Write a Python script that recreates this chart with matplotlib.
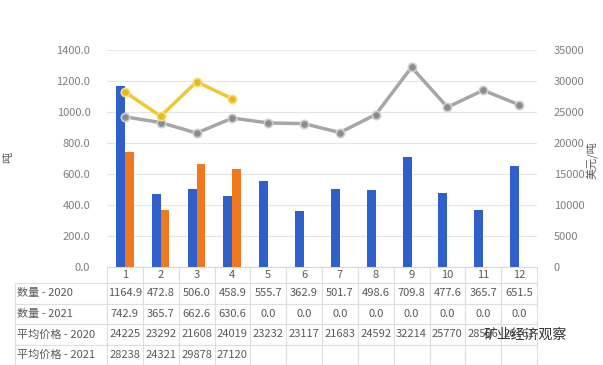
import matplotlib.pyplot as plt
import numpy as np

plt.rcParams['font.family'] = ['Noto Sans CJK SC', 'DejaVu Sans']

months = ['1', '2', '3', '4', '5', '6', '7', '8', '9', '10', '11', '12']
qty_2020 = [1164.9, 472.8, 506.0, 458.9, 555.7, 362.9, 501.7, 498.6, 709.8, 477.6, 365.7, 651.5]
qty_2021 = [742.9, 365.7, 662.6, 630.6, 0.0, 0.0, 0.0, 0.0, 0.0, 0.0, 0.0, 0.0]
price_2020 = [24225, 23292, 21608, 24019, 23232, 23117, 21683, 24592, 32214, 25770, 28506, 26161]
price_2021 = [28238, 24321, 29878, 27120]
row_labels = ['数量 - 2020', '数量 - 2021', '平均价格 - 2020', '平均价格 - 2021']

txt = '#595959'
fig = plt.figure(figsize=(6.03, 3.65), dpi=100)
W, H = 603, 365
ax = fig.add_axes([107 / W, 1 - 267 / H, 430 / W, 217 / H])

x = np.arange(len(months))
ax.bar(x - 0.125, qty_2020, width=0.25, color='#2f5fc8', zorder=2)
ax.bar(x + 0.12, qty_2021, width=0.24, color='#f07820', zorder=2)
ax.set_xlim(-0.5, 11.5)
ax.set_ylim(0, 1400)
ax.set_yticks(np.arange(0, 1401, 200))
ax.set_yticklabels([f'{v:.1f}' for v in np.arange(0, 1401, 200)])
ax.grid(axis='y', color='#e6e6e6', linewidth=0.8, zorder=0)
ax.set_xticks([])
for s in ['left', 'right', 'top']:
    ax.spines[s].set_visible(False)
ax.spines['bottom'].set_color('#d9d9d9')
ax.tick_params(axis='y', length=0, labelsize=8, labelcolor='#7f7f7f', pad=12)

ax2 = ax.twinx()
ax2.plot(x, price_2020, color='#a6a6a6', linewidth=2.5, marker='o', markersize=6,
         markerfacecolor='#8c8c8c', markeredgecolor='#d0d0d0', markeredgewidth=1.2, zorder=3)
ax2.plot(x[:4], price_2021, color='#f2c832', linewidth=2.5, marker='o', markersize=6,
         markerfacecolor='#e8b820', markeredgecolor='#f7df80', markeredgewidth=1.2, zorder=4)
ax2.set_ylim(0, 35000)
ax2.set_yticks(np.arange(0, 35001, 5000))
for s in ['left', 'right', 'top', 'bottom']:
    ax2.spines[s].set_visible(False)
ax2.tick_params(axis='y', length=0, labelsize=8, labelcolor='#7f7f7f', pad=12)

# table under the plot, columns lined up with the months
cells = [[''] + months]
cells.append([row_labels[0]] + [f'{v:.1f}' for v in qty_2020])
cells.append([row_labels[1]] + [f'{v:.1f}' for v in qty_2021])
cells.append([row_labels[2]] + [str(v) for v in price_2020])
cells.append([row_labels[3]] + [str(v) for v in price_2021] + [''] * (12 - len(price_2021)))
lab_w = 92 / 430
tab = ax.table(cellText=cells, cellLoc='center',
               colWidths=[lab_w] + [1 / 12] * 12,
               bbox=[-lab_w, -98 / 217, 1 + lab_w, 98 / 217])
tab.auto_set_font_size(False)
tab.set_fontsize(8)
for (r, c), cell in tab.get_celld().items():
    cell.set_edgecolor('#dedede')
    cell.set_linewidth(0.8)
    cell.get_text().set_color(txt)
    cell.set_height(16 if r == 0 else 20.5)
    if r == 0 and c == 0:
        cell.visible_edges = ''
    if c == 0:
        cell.get_text().set_ha('left')
        cell.PAD = 0.02

fig.text(8 / W, 1 - 157 / H, '吨', rotation=90, fontsize=8, color=txt, va='center', ha='center')
fig.text(592 / W, 1 - 160 / H, '美元/吨', rotation=90, fontsize=8, color=txt, va='center', ha='center')
fig.text(525 / W, 1 - 335 / H, '矿业经济观察', fontsize=10, color='#333333', va='center', ha='center')

fig.savefig('out.png', dpi=100)
